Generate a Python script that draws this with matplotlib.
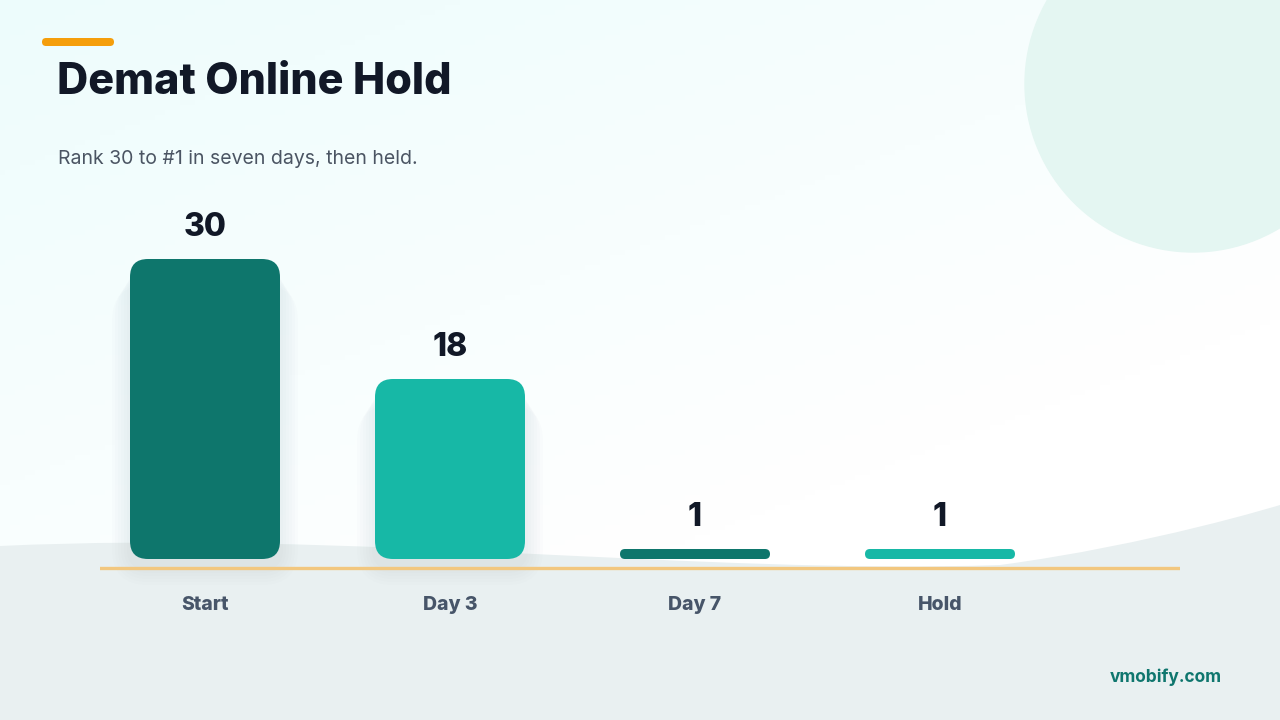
import matplotlib.pyplot as plt
import numpy as np
from matplotlib.patches import FancyBboxPatch, Circle, PathPatch
from matplotlib.path import Path

plt.rcParams['font.family'] = ['Inter', 'DejaVu Sans']

categories = ['Start', 'Day 3', 'Day 7', 'Hold']
ranks = [30, 18, 1, 1]
bar_colors = ['#0E766C', '#17B8A6', '#0E766C', '#17B8A6']

title = 'Demat Online Hold'
subtitle = 'Rank 30 to #1 in seven days, then held.'

W, H = 1280, 720
fig = plt.figure(figsize=(12.8, 7.2), dpi=100)

# background layer in pixel coords
bg = fig.add_axes([0, 0, 1, 1])
bg.set_xlim(0, W)
bg.set_ylim(H, 0)
bg.axis('off')

gx = np.linspace(0, 1, 256)
gy = np.linspace(0, 1, 144)
GX, GY = np.meshgrid(gx, gy)
t = np.clip(0.6 * GX + 0.9 * GY, 0, 1)
c0 = np.array([0.93, 0.99, 0.99])
c1 = np.array([1.0, 1.0, 1.0])
img = c0 * (1 - t[..., None]) + c1 * t[..., None]
bg.imshow(img, extent=[0, W, H, 0], aspect='auto', zorder=0)

bg.add_patch(Circle((1193, 84), 168, color='#E4F6F2', zorder=1))

# bottom wave
verts = [(0, 546), (350, 530), (700, 575), (1000, 565),
         (1150, 545), (1280, 505), (1280, 505),
         (1280, 720), (0, 720), (0, 546)]
codes = [Path.MOVETO, Path.CURVE4, Path.CURVE4, Path.CURVE4,
         Path.CURVE4, Path.CURVE4, Path.CURVE4,
         Path.LINETO, Path.LINETO, Path.CLOSEPOLY]
bg.add_patch(PathPatch(Path(verts, codes), facecolor='#E9F0F1', edgecolor='none', zorder=1))

bg.add_patch(FancyBboxPatch((42, 38), 72, 8, boxstyle='round,pad=0,rounding_size=4',
                            facecolor='#F59E0B', edgecolor='none', zorder=3))
bg.text(57, 82, title, fontsize=31, fontweight='heavy', color='#111827', va='center', ha='left', zorder=3)
bg.text(58, 159, subtitle, fontsize=14, color='#4B5563', va='center', ha='left', zorder=3)
bg.text(1222, 677, 'vmobify.com', fontsize=12.5, fontweight='bold', color='#0F766E',
        va='center', ha='right', zorder=3)

# chart axes: x from 100 to 1180 px, y from 580 (bottom) to 200 (top) px
x0_px, x1_px, yb_px, yt_px = 100, 1180, 580, 200
ax = fig.add_axes([x0_px / W, 1 - yb_px / H, (x1_px - x0_px) / W, (yb_px - yt_px) / H])
ax.patch.set_alpha(0)
ax.axis('off')
step = 245.0
px_per_unit = 10.0
ax.set_xlim(-(205 - x0_px) / step, (x1_px - 205) / step)
ax.set_ylim(-(yb_px - 559) / px_per_unit, (559 - yt_px) / px_per_unit)

bw = 150 / step
for i, (v, col) in enumerate(zip(ranks, bar_colors)):
    h_px = v * px_per_unit
    r_px = min(18, h_px / 2)
    aspect = (r_px / px_per_unit) / (r_px / step)
    # soft shadow, pushed downward (only visible on the tall bars)
    if v > 3:
        for k in range(6):
            grow = (k + 1) * 3
            ax.add_patch(FancyBboxPatch((i - bw / 2 - grow / step, -grow / px_per_unit - 0.8),
                                        bw + 2 * grow / step, v,
                                        boxstyle='round,pad=0,rounding_size=%f' % ((r_px + grow) / step),
                                        mutation_aspect=aspect, facecolor='#94A3B8', alpha=0.025,
                                        edgecolor='none', zorder=2, clip_on=False))
    ax.add_patch(FancyBboxPatch((i - bw / 2, 0), bw, v,
                                boxstyle='round,pad=0,rounding_size=%f' % (r_px / step),
                                mutation_aspect=aspect, facecolor=col, edgecolor='none', zorder=3))
    ax.text(i, v + 3.2, str(v), ha='center', va='center', fontsize=23,
            fontweight='heavy', color='#111827', zorder=4)
    ax.text(i, -4.6, categories[i], ha='center', va='center', fontsize=14,
            fontweight='heavy', color='#475569', zorder=4, clip_on=False)

ax.axhline(-0.9, color='#F2C77F', linewidth=2.4, zorder=4)

fig.savefig('out.png', dpi=100)
